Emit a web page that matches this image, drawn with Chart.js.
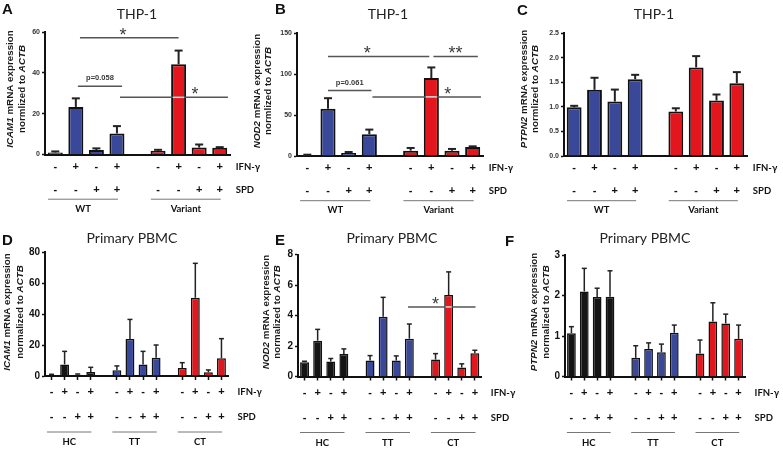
<!DOCTYPE html>
<html>
<head>
<meta charset="UTF-8">
<title>ICAM1 / NOD2 / PTPN2 expression, THP-1 and primary PBMC</title>
<script src="https://cdn.jsdelivr.net/npm/chart.js"></script>
<style>
    body { margin: 0; background: #fff; }
    #wrap { position: relative; width: 783px; height: 449px; }
    #wrap canvas { position: absolute; left: 0; top: 0; }
</style>
</head>
<body>
<div id="wrap">
    <canvas id="pA" width="783" height="449"></canvas>
    <canvas id="pB" width="783" height="449"></canvas>
    <canvas id="pC" width="783" height="449"></canvas>
    <canvas id="pD" width="783" height="449"></canvas>
    <canvas id="pE" width="783" height="449"></canvas>
    <canvas id="pF" width="783" height="449"></canvas>
</div>
<script>
// --- data ---
const thpGroups = ['WT', 'Variant'];
const pbmcGroups = ['HC', 'TT', 'CT'];
const ifnSigns = ['-', '+', '-', '+'];
const spdSigns = ['-', '-', '+', '+'];

const icamThp     = [1.0, 23.3, 2.2, 10.3,   1.8, 44.2, 3.4, 3.3];
const icamThpErr  = [1.5, 27.5, 3.0, 13.9,   2.3, 50.9, 4.9, 3.6];
const nod2Thp     = [1.2, 57.5, 3.7, 26.5,   6.5, 95.0, 6.5, 11.0];
const nod2ThpErr  = [1.6, 70.5, 4.9, 32.2,   9.8, 108, 8.6, 11.8];
const ptpn2Thp    = [0.99, 1.345, 1.107, 1.56,   0.904, 1.80, 1.128, 1.48];
const ptpn2ThpErr = [1.02, 1.59, 1.35, 1.65,     0.97, 2.03, 1.25, 1.705];

const icamPbmc     = [0.65, 7.5, 0.86, 2.6,   3.7, 23.9, 7.5, 11.8,   5.2, 50.5, 2.4, 11.4];
const icamPbmcErr  = [1.1, 15.9, 1.3, 5.6,    6.5, 36.5, 15.9, 20.0,  8.6, 72.7, 3.9, 24.1];
const nod2Pbmc     = [0.94, 2.35, 0.98, 1.48,  1.05, 3.92, 1.05, 2.48,  1.11, 5.34, 0.59, 1.53];
const nod2PbmcErr  = [1.0, 3.09, 1.18, 1.81,   1.37, 5.19, 1.35, 3.44,  1.50, 6.86, 0.83, 1.72];
const ptpn2Pbmc    = [1.07, 2.10, 1.96, 1.97,  0.46, 0.68, 0.60, 1.08,  0.57, 1.36, 1.31, 0.93];
const ptpn2PbmcErr = [1.23, 2.67, 2.18, 2.61,  0.76, 0.83, 0.80, 1.27,  0.90, 1.82, 1.54, 1.27];

// significance: [from bar, to bar, level, label, label position]
const icamThpSig = [[1.2, 6, 57.2, '*', 3.3], [1.1, 3.25, 33.4, 'p=0.058'], [3.15, 8.4, 28, '*', 6.8]];
const nod2ThpSig = [[1, 5.9, 121.4, '*', 2.9], [6.1, 8.25, 121.4, '**'], [1, 3.1, 79.8, 'p=0.061'], [3.15, 8.4, 72.1, '*', 6.8]];
const nod2PbmcSig = [[7.9, 13.05, 4.56, '*', 10]];

const BLUE = '#394899', RED = '#e2161c', BLACK = '#151515';
const YW = 20, XH = 5;

// put an empty slot between groups
function withGaps(values, nGroups) {
    const out = [];
    for (let g = 0; g < nGroups; g++) {
        out.push(...values.slice(g * 4, g * 4 + 4));
        if (g < nGroups - 1) out.push(null);
    }
    return out;
}
function makeLabels(groups) {
    const out = [];
    groups.forEach((g, gi) => {
        ifnSigns.forEach((s, j) => out.push(g + ' IFN' + s + ' SPD' + spdSigns[j]));
        if (gi < groups.length - 1) out.push('');
    });
    return out;
}

const topStyle = { barPct: 0.73, bw: 2, errW: 2, cap: 8, tickFont: { family: 'Liberation Sans', size: 7, weight: 'bold' },
                   tickColor: '#333', rows: [12.4, 35, 44.7, 54], xTicks: false, norm: 'normlized to ' };
const botStyle = { barPct: 0.68, bw: 1.5, errW: 1.5, cap: 5, tickFont: { family: 'Liberation Sans', size: 10, weight: 'bold' },
                   tickColor: '#111', rows: [16, 41, 56, 66], xTicks: true, norm: 'normalized to ' };

const panels = [
    { id: 'pA', letter: 'A', lx: 2, ly: 14, title: 'THP-1', tx: 137, ty: 19, gene: 'ICAM1', ytx: [10, 22], yty: 89,
      groups: thpGroups, colors: [BLUE, RED], values: icamThp, errors: icamThpErr, sig: icamThpSig,
      yMax: 60, yStep: 20, dec: 0, L: 45, T: 32, R: 230, B: 154.5, s: topStyle },
    { id: 'pB', letter: 'B', lx: 275, ly: 14, title: 'THP-1', tx: 388, ty: 19, gene: 'NOD2', ytx: [257, 268], yty: 91,
      groups: thpGroups, colors: [BLUE, RED], values: nod2Thp, errors: nod2ThpErr, sig: nod2ThpSig,
      yMax: 150, yStep: 50, dec: 0, L: 297, T: 33, R: 483, B: 156, s: topStyle },
    { id: 'pC', letter: 'C', lx: 517, ly: 15, title: 'THP-1', tx: 654, ty: 19, gene: 'PTPN2', ytx: [524, 535], yty: 89,
      groups: thpGroups, colors: [BLUE, RED], values: ptpn2Thp, errors: ptpn2ThpErr, sig: [],
      yMax: 2.5, yStep: 0.5, dec: 1, L: 564, T: 33, R: 747, B: 156, s: topStyle },
    { id: 'pD', letter: 'D', lx: 2, ly: 245, title: 'Primary PBMC', tx: 132, ty: 243, gene: 'ICAM1', ytx: [7.5, 20], yty: 312,
      groups: pbmcGroups, colors: [BLACK, BLUE, RED], values: icamPbmc, errors: icamPbmcErr, sig: [],
      yMax: 80, yStep: 20, dec: 0, L: 45, T: 252, R: 228, B: 376, s: botStyle },
    { id: 'pE', letter: 'E', lx: 275, ly: 245, title: 'Primary PBMC', tx: 392, ty: 243, gene: 'NOD2', ytx: [266, 277.5], yty: 312,
      groups: pbmcGroups, colors: [BLACK, BLUE, RED], values: nod2Pbmc, errors: nod2PbmcErr, sig: nod2PbmcSig,
      yMax: 8, yStep: 2, dec: 0, L: 298, T: 254.5, R: 481.4, B: 376.5, s: botStyle },
    { id: 'pF', letter: 'F', lx: 505, ly: 246, title: 'Primary PBMC', tx: 645, ty: 243, gene: 'PTPN2', ytx: [534, 546], yty: 312,
      groups: pbmcGroups, colors: [BLACK, BLUE, RED], values: ptpn2Pbmc, errors: ptpn2PbmcErr, sig: [],
      yMax: 3, yStep: 1, dec: 0, L: 565, T: 255, R: 745, B: 376.5, s: botStyle }
];

function line(ctx, x1, y1, x2, y2) {
    ctx.beginPath(); ctx.moveTo(x1, y1); ctx.lineTo(x2, y2); ctx.stroke();
}

// vertical two-style text (gene names in italics)
function vtext(ctx, segs, cx, cy) {
    ctx.save();
    ctx.translate(cx, cy);
    ctx.rotate(-Math.PI / 2);
    const f = it => (it ? 'italic ' : '') + 'bold 9.8px "Liberation Sans", Arial, sans-serif';
    let total = 0;
    segs.forEach(([t, it]) => { ctx.font = f(it); total += ctx.measureText(t).width; });
    let x = -total / 2;
    ctx.textAlign = 'left'; ctx.textBaseline = 'middle'; ctx.fillStyle = '#1a1a1a';
    segs.forEach(([t, it]) => { ctx.font = f(it); ctx.fillText(t, x, 0); x += ctx.measureText(t).width; });
    ctx.restore();
}

function extras(p, labels, vals, errs) {
    const s = p.s;
    return {
        id: 'extras' + p.letter,
        afterDatasetsDraw(chart) {
            const ctx = chart.ctx, xs = chart.scales.x, ys = chart.scales.y;
            const meta = chart.getDatasetMeta(0);
            ctx.save();
            // error bars (upper only)
            ctx.strokeStyle = '#222'; ctx.lineWidth = s.errW;
            meta.data.forEach((bar, i) => {
                if (errs[i] == null) return;
                const top = ys.getPixelForValue(errs[i]);
                line(ctx, bar.x, bar.y, bar.x, top);
                line(ctx, bar.x - s.cap / 2, top, bar.x + s.cap / 2, top);
            });
            // significance lines
            p.sig.forEach(([a, b, v, label, at]) => {
                const x1 = xs.getPixelForValue(a), x2 = xs.getPixelForValue(b), yy = ys.getPixelForValue(v);
                ctx.strokeStyle = '#555'; ctx.lineWidth = 1.5;
                line(ctx, x1, yy, x2, yy);
                meta.data.forEach((bar, i) => {
                    if (vals[i] == null || vals[i] <= v) return;
                    const l = Math.max(x1, bar.x - bar.width / 2 + s.bw), r = Math.min(x2, bar.x + bar.width / 2 - s.bw);
                    if (r > l) { ctx.strokeStyle = 'rgba(255,255,255,0.8)'; line(ctx, l, yy, r, yy); }
                });
                const lx = at != null ? xs.getPixelForValue(at) : (x1 + x2) / 2;
                ctx.fillStyle = '#3a3a3a'; ctx.textAlign = 'center';
                if (label[0] === 'p') {
                    ctx.font = 'bold 7.5px "Liberation Sans", Arial, sans-serif';
                    ctx.textBaseline = 'middle';
                    ctx.fillText(label, lx, yy - 8);
                } else {
                    ctx.font = '18px "Liberation Sans", Arial, sans-serif';
                    ctx.textBaseline = 'alphabetic';
                    ctx.fillText(label, lx, yy + 3);
                }
            });
            ctx.restore();
        },
        afterDraw(chart) {
            const ctx = chart.ctx, xs = chart.scales.x;
            const base = chart.chartArea.bottom;
            const [d1, d2, d3, d4] = s.rows;
            ctx.save();
            ctx.fillStyle = '#111';
            ctx.font = 'bold 15px "Liberation Sans", Arial, sans-serif';
            ctx.textAlign = 'left'; ctx.textBaseline = 'alphabetic';
            ctx.fillText(p.letter, p.lx, p.ly);
            ctx.font = '14px Lato, "Open Sans", sans-serif';
            ctx.fillStyle = '#222'; ctx.textAlign = 'center';
            ctx.fillText(p.title, p.tx, p.ty);

            vtext(ctx, [[p.gene, true], [' mRNA expression', false]], p.ytx[0], p.yty);
            vtext(ctx, [[s.norm, false], ['ACTB', true]], p.ytx[1], p.yty);

            // treatment rows under the bars
            ctx.fillStyle = '#111'; ctx.textBaseline = 'middle'; ctx.textAlign = 'center';
            ctx.font = 'bold 11px "Liberation Sans", Arial, sans-serif';
            let j = 0;
            labels.forEach((lab, i) => {
                if (!lab) { j = 0; return; }
                const x = xs.getPixelForTick(i);
                ctx.fillText(ifnSigns[j], x, base + d1);
                ctx.fillText(spdSigns[j], x, base + d2);
                j++;
            });
            // group underlines and names
            const step = xs.getPixelForTick(1) - xs.getPixelForTick(0);
            ctx.font = 'bold 9.5px Lato, sans-serif';
            p.groups.forEach((g, gi) => {
                const i0 = gi * 5, i1 = gi * 5 + 3;
                const x1 = xs.getPixelForTick(i0) - 0.35 * step, x2 = xs.getPixelForTick(i1) + 0.05 * step;
                ctx.strokeStyle = '#777'; ctx.lineWidth = 1;
                line(ctx, x1, base + d3, x2, base + d3);
                ctx.fillText(g, (x1 + x2) / 2, base + d4);
            });
            const rx = xs.getPixelForTick(labels.length - 1) + 16;
            ctx.textAlign = 'left';
            ctx.fillText('IFN-\u03b3', rx, base + d1);
            ctx.fillText('SPD', rx, base + d2);
            ctx.restore();
        }
    };
}

panels.forEach(p => {
    const s = p.s;
    const labels = makeLabels(p.groups);
    const vals = withGaps(p.values, p.groups.length);
    const errs = withGaps(p.errors, p.groups.length);
    const fills = [];
    p.groups.forEach((g, gi) => {
        for (let k = 0; k < 4; k++) fills.push(p.colors[gi]);
        if (gi < p.groups.length - 1) fills.push('rgba(0,0,0,0)');
    });

    new Chart(document.getElementById(p.id), {
        type: 'bar',
        data: {
            labels: labels,
            datasets: [{
                data: vals,
                backgroundColor: fills,
                borderColor: '#111',
                borderWidth: s.bw,
                barPercentage: s.barPct,
                categoryPercentage: 1
            }]
        },
        options: {
            responsive: false,
            animation: false,
            events: [],
            layout: { padding: { left: p.L - YW, top: p.T, right: 783 - p.R, bottom: 449 - p.B - XH } },
            plugins: { legend: { display: false }, tooltip: { enabled: false }, title: { display: false } },
            scales: {
                x: {
                    offset: true,
                    ticks: { display: false },
                    grid: {
                        display: s.xTicks, drawOnChartArea: false, drawTicks: true, tickLength: 4, offset: false,
                        tickWidth: 1.5,
                        tickColor: c => (labels[c.index] ? '#111' : 'rgba(0,0,0,0)')
                    },
                    border: { color: '#111', width: 2 },
                    afterFit: sc => { sc.height = XH; }
                },
                y: {
                    min: 0, max: p.yMax,
                    ticks: { stepSize: p.yStep, font: s.tickFont, color: s.tickColor, padding: 2,
                             callback: v => Number(v).toFixed(p.dec) },
                    grid: { drawOnChartArea: false, drawTicks: true, tickLength: 3, tickColor: '#111', tickWidth: 1.5 },
                    border: { color: '#111', width: 2 },
                    afterFit: sc => { sc.width = YW; }
                }
            }
        },
        plugins: [extras(p, labels, vals, errs)]
    });
});
</script>
</body>
</html>
